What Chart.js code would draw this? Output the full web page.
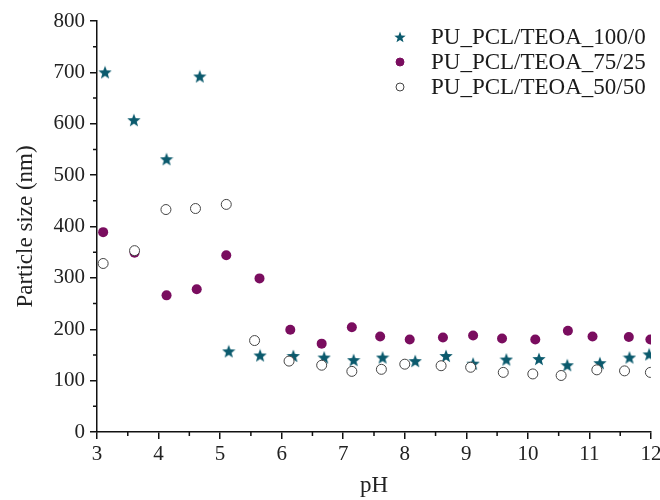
<!DOCTYPE html>
<html>
<head>
<meta charset="utf-8">
<script src="https://cdn.jsdelivr.net/npm/chart.js@4.4.0/dist/chart.umd.min.js"></script>
<style>
  body { margin: 0; background: #fff; }
  #wrap { width: 660px; height: 500px; }
</style>
</head>
<body>
<div id="wrap"><canvas id="sizeChart" width="660" height="500"></canvas></div>
<script>
// Datos (pH vs tamaño de partícula)
const labels = ['PU_PCL/TEOA_100/0', 'PU_PCL/TEOA_75/25', 'PU_PCL/TEOA_50/50'];

const ph100 = [3.13, 3.6, 4.13, 4.67, 5.14, 5.65, 6.19, 6.69, 7.17, 7.64, 8.17, 8.67, 9.11, 9.65, 10.18, 10.64, 11.17, 11.65, 11.97];
const size100 = [700, 607, 531, 692, 157, 149, 148, 145, 140, 145, 138, 148, 133, 141, 142, 130, 134, 145, 151];

const ph75 = [3.1, 3.61, 4.13, 4.62, 5.1, 5.64, 6.14, 6.65, 7.14, 7.6, 8.08, 8.62, 9.11, 9.58, 10.12, 10.65, 11.05, 11.64, 11.99];
const size75 = [389, 349, 266, 278, 344, 299, 199, 172, 204, 186, 180, 184, 188, 182, 180, 197, 186, 185, 180];

const ph50 = [3.1, 3.61, 4.12, 4.6, 5.1, 5.56, 6.12, 6.65, 7.14, 7.62, 8.0, 8.59, 9.07, 9.6, 10.08, 10.54, 11.12, 11.57, 11.99];
const size50 = [328, 353, 433, 435, 443, 178, 138, 130, 118, 122, 132, 129, 126, 116, 113, 110, 121, 119, 116];

const xTicks = [3, 4, 5, 6, 7, 8, 9, 10, 11, 12];
const yTicks = [0, 100, 200, 300, 400, 500, 600, 700, 800];

const teal = '#0b5a6d';
const purple = '#7a0d5f';
const serif = "'Liberation Serif', 'Times New Roman', serif";

// Estrella rellena de 5 puntas
function makeStar(size, color) {
    const c = document.createElement('canvas');
    c.width = size; c.height = size;
    const g = c.getContext('2d');
    const cx = size / 2, cy = size / 2 + 0.5;
    const outer = size / 2, inner = outer * 0.42;
    g.beginPath();
    for (let i = 0; i < 10; i++) {
        const r = i % 2 === 0 ? outer : inner;
        const a = -Math.PI / 2 + i * Math.PI / 5;
        const px = cx + r * Math.cos(a), py = cy + r * Math.sin(a);
        if (i === 0) g.moveTo(px, py); else g.lineTo(px, py);
    }
    g.closePath();
    g.fillStyle = color;
    g.fill();
    return c;
}
const star = makeStar(14, teal);
const starSmall = makeStar(12, teal);

function toPoints(xs, ys) {
    return xs.map((x, i) => ({ x: x, y: ys[i] }));
}

// Marcas menores en los ejes
const minorTicks = {
    id: 'minorTicks',
    afterDraw(chart) {
        const ctx = chart.ctx;
        const xs = chart.scales.x, ys = chart.scales.y;
        ctx.save();
        ctx.strokeStyle = '#111';
        ctx.lineWidth = 1.5;
        ctx.beginPath();
        for (let i = 0; i < xTicks.length - 1; i++) {
            const px = xs.getPixelForValue((xTicks[i] + xTicks[i + 1]) / 2);
            ctx.moveTo(px, ys.bottom);
            ctx.lineTo(px, ys.bottom + 4);
        }
        for (let i = 0; i < yTicks.length - 1; i++) {
            const py = ys.getPixelForValue((yTicks[i] + yTicks[i + 1]) / 2);
            ctx.moveTo(xs.left, py);
            ctx.lineTo(xs.left - 4, py);
        }
        ctx.stroke();
        ctx.restore();
    }
};

// Leyenda dentro del área del gráfico
const insideLegend = {
    id: 'insideLegend',
    afterDraw(chart) {
        const ctx = chart.ctx;
        const mx = 400, tx = 431, y0 = 37, dy = 25;
        ctx.save();
        ctx.font = '23px ' + serif;
        ctx.textBaseline = 'middle';
        ctx.fillStyle = '#1a1a1a';
        chart.data.datasets.forEach((ds, i) => {
            const y = y0 + i * dy;
            if (i === 0) {
                ctx.drawImage(starSmall, mx - 6, y - 6);
            } else {
                ctx.beginPath();
                ctx.arc(mx, y, 4, 0, Math.PI * 2);
                ctx.fillStyle = ds.backgroundColor;
                ctx.fill();
                ctx.lineWidth = 1;
                ctx.strokeStyle = ds.borderColor;
                ctx.stroke();
                ctx.fillStyle = '#1a1a1a';
            }
            ctx.fillText(ds.label, tx, y + 1);
        });
        ctx.restore();
    }
};

const ctx = document.getElementById('sizeChart').getContext('2d');
new Chart(ctx, {
    type: 'scatter',
    data: {
        datasets: [{
            label: labels[0],
            data: toPoints(ph100, size100),
            pointStyle: star,
            backgroundColor: teal,
            borderColor: teal,
            order: 3
        }, {
            label: labels[1],
            data: toPoints(ph75, size75),
            pointStyle: 'circle',
            pointRadius: 5,
            backgroundColor: purple,
            borderColor: purple,
            borderWidth: 0,
            order: 2
        }, {
            label: labels[2],
            data: toPoints(ph50, size50),
            pointStyle: 'circle',
            pointRadius: 5,
            backgroundColor: '#ffffff',
            borderColor: '#444444',
            borderWidth: 1,
            order: 1
        }]
    },
    options: {
        responsive: false,
        animation: false,
        layout: { padding: { left: 0, right: 9, top: 21, bottom: 0 } },
        plugins: {
            legend: { display: false },
            tooltip: { enabled: false }
        },
        scales: {
            x: {
                type: 'linear',
                min: 3,
                max: 12,
                afterBuildTicks: scale => { scale.ticks = xTicks.map(v => ({ value: v })); },
                afterFit: scale => { scale.height = 68; scale.paddingRight = 0; scale.paddingLeft = 0; },
                border: { display: true, color: '#111', width: 1.5 },
                grid: { drawOnChartArea: false, drawTicks: true, tickLength: 7, color: '#111', lineWidth: 1.5 },
                ticks: { color: '#222', font: { family: serif, size: 21 }, padding: 3, maxRotation: 0 },
                title: { display: true, text: 'pH', color: '#222', font: { family: serif, size: 23 }, padding: { top: 0, bottom: 0 } }
            },
            y: {
                min: 0,
                max: 800,
                afterBuildTicks: scale => { scale.ticks = yTicks.map(v => ({ value: v })); },
                afterFit: scale => { scale.width = 97; scale.paddingTop = 0; scale.paddingBottom = 0; },
                border: { display: true, color: '#111', width: 1.5 },
                grid: { drawOnChartArea: false, drawTicks: true, tickLength: 7, color: '#111', lineWidth: 1.5 },
                ticks: { color: '#222', font: { family: serif, size: 21 }, padding: 5 },
                title: { display: true, text: 'Particle size (nm)', color: '#222', font: { family: serif, size: 23 }, padding: { top: 12, bottom: 0 } }
            }
        }
    },
    plugins: [minorTicks, insideLegend]
});
</script>
</body>
</html>
